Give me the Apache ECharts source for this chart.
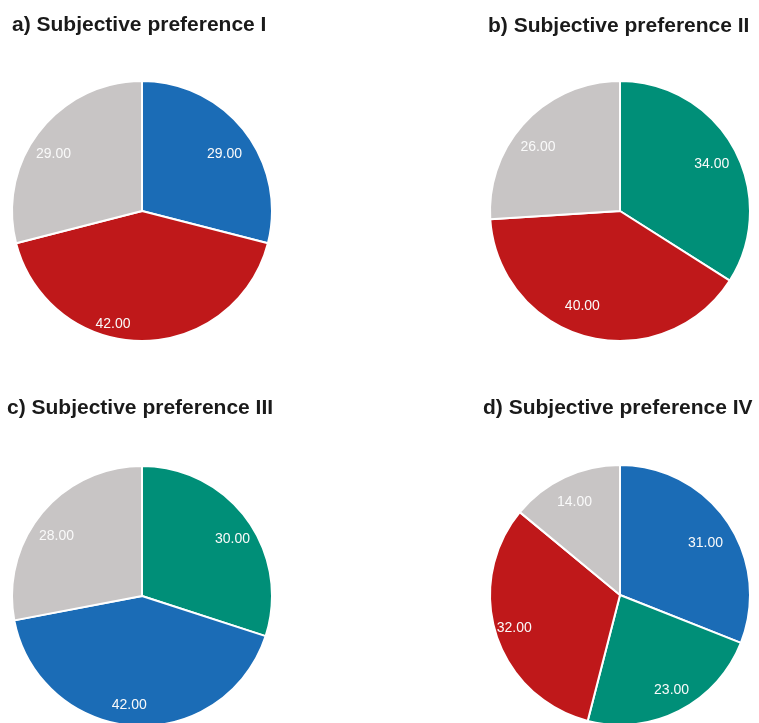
<!DOCTYPE html>
<html>
<head>
<meta charset="utf-8">
<script src="https://cdn.jsdelivr.net/npm/echarts@6/dist/echarts.min.js"></script>
<style>
  html, body { margin: 0; padding: 0; background: #fff; }
  #main { width: 759px; height: 723px; }
</style>
</head>
<body>
<div id="main"></div>
<script>
// titles of the four panels
var titles = ['a) Subjective preference I', 'b) Subjective preference II',
              'c) Subjective preference III', 'd) Subjective preference IV'];

// slice values, clockwise from 12 o'clock
var valuesA = [29, 42, 29];
var valuesB = [34, 40, 26];
var valuesC = [30, 42, 28];
var valuesD = [31, 23, 32, 14];

// slice colour keys, same order as values
var keysA = ['blue', 'red', 'grey'];
var keysB = ['green', 'red', 'grey'];
var keysC = ['green', 'blue', 'grey'];
var keysD = ['blue', 'green', 'red', 'grey'];

var colors = { blue: '#1b6cb6', red: '#bf181a', grey: '#c8c5c5', green: '#008f78' };

// small label nudges (px) so labels sit where the original placed them
var nudgeA = [[-2, 9], [-29, 6], [-4, 9]];
var nudgeB = [[-2, 5], [-11, -8], [-4, 9]];
var nudgeC = [[4, 6], [-6, 2], [-3, 8]];
var nudgeD = [[-3, 8], [3, 0], [-4, 0], [0, 4]];

var panels = [
  { vals: valuesA, keys: keysA, nudge: nudgeA, center: [142, 211], title: [7, 10] },
  { vals: valuesB, keys: keysB, nudge: nudgeB, center: [620, 211], title: [483, 11] },
  { vals: valuesC, keys: keysC, nudge: nudgeC, center: [142, 596], title: [2, 393] },
  { vals: valuesD, keys: keysD, nudge: nudgeD, center: [620, 595], title: [478, 393] }
];

var myChart = echarts.init(document.getElementById('main'), null, { renderer: 'canvas' });

var series = [];
var titleOpts = [];
panels.forEach(function (p, i) {
  var data = p.vals.map(function (v, j) {
    return { name: p.keys[j] + j, value: v, itemStyle: { color: colors[p.keys[j]] } };
  });
  // the pie itself
  series.push({
    type: 'pie',
    center: p.center,
    radius: [0, 130],
    startAngle: 90,
    clockwise: true,
    silent: true,
    animation: false,
    label: { show: false },
    labelLine: { show: false },
    itemStyle: { borderColor: '#fff', borderWidth: 2 },
    data: data
  });
  // transparent ring that carries the labels at ~0.8 of the radius
  series.push({
    type: 'pie',
    center: p.center,
    radius: [78, 130],
    startAngle: 90,
    clockwise: true,
    silent: true,
    animation: false,
    itemStyle: { color: 'rgba(0,0,0,0)' },
    label: {
      show: true,
      position: 'inside',
      color: '#fafafa',
      fontFamily: 'Liberation Sans, Arial, sans-serif',
      fontSize: 14,
      formatter: function (d) { return d.value.toFixed(2); }
    },
    labelLine: { show: false },
    data: p.vals.map(function (v, j) {
      return { name: p.keys[j] + j, value: v, label: { offset: p.nudge[j] } };
    })
  });
  titleOpts.push({
    text: titles[i],
    left: p.title[0],
    top: p.title[1],
    textStyle: {
      fontFamily: 'Liberation Sans, Arial, sans-serif',
      fontWeight: 'bold',
      fontSize: 21,
      color: '#1a1a1a'
    }
  });
});

myChart.setOption({
  backgroundColor: '#fff',
  animation: false,
  title: titleOpts,
  series: series
});
window.addEventListener('resize', function () { myChart.resize(); });
</script>
</body>
</html>
